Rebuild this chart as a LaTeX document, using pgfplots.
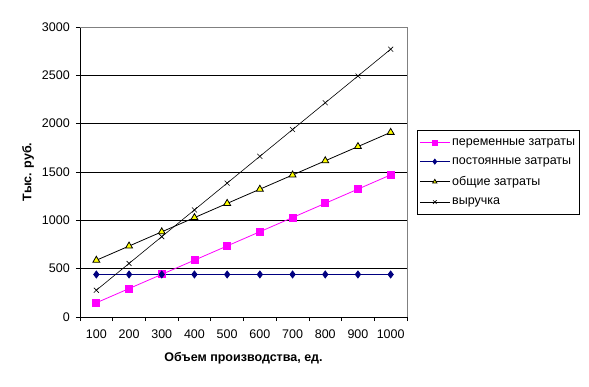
\documentclass[border=0pt]{standalone}
\usepackage{fontspec}
\setmainfont{Liberation Sans}
\usepackage{pgfplots}
\pgfplotsset{compat=1.18}
\definecolor{navyc}{RGB}{0,0,128}
\definecolor{magc}{RGB}{255,0,255}
\definecolor{yelc}{RGB}{255,255,0}
\begin{document}
\fontsize{12bp}{14bp}\selectfont
\begin{tikzpicture}
\useasboundingbox (-80bp,-70bp) rectangle (509bp,317bp);
\begin{axis}[
  at={(0,0)}, anchor=south west,
  scale only axis, width=327bp, height=290bp,
  xmin=-0.5, xmax=9.5, ymin=0, ymax=3000,
  xtick={0,...,9},
  xticklabels={100,200,300,400,500,600,700,800,900,1000},
  major x tick style={draw=none},
  minor xtick={-0.5,0.5,...,9.5},
  minor tick length=4bp,
  ytick={0,500,...,3000},
  major tick length=4bp,
  tick align=outside,
  tick style={black, line width=0.8bp},
  ymajorgrids, grid style={black, line width=0.8bp},
  axis x line*=bottom, axis y line*=left,
  axis line style={black, line width=0.8bp, -},
  /pgf/number format/assume math mode=true,
  /pgf/number format/1000 sep={},
  ticklabel style={font=\fontsize{12.5bp}{14bp}\selectfont},
  xticklabel style={yshift=-5bp},
  yticklabel style={xshift=-2bp},
  xlabel={\textbf{Объем производства, ед.}},
  ylabel={\textbf{Тыс. руб.}},
  label style={font=\fontsize{12.5bp}{14bp}\selectfont},
  xlabel style={at={(axis description cs:0.5,-0.141)}, anchor=center},
  ylabel style={at={(axis description cs:-0.159,0.5)}, anchor=center},
  legend style={at={(1.0306,0.645)}, anchor=north west, draw=black, line width=0.8bp,
    font=\fontsize{12.5bp}{14bp}\selectfont, row sep=6.5bp, inner xsep=2bp,
    inner ysep=6bp, legend cell align=left},
  legend image code/.code={\draw[mark repeat=2,mark phase=2,mark size=2.5bp] plot coordinates {(0bp,0bp)(15bp,0bp)(30bp,0bp)};},
  clip=false,
]
\addplot[magc, line width=0.8bp, mark=square*, mark size=3.5bp, mark options={fill=magc, draw=magc}]
  coordinates {(0,147)(1,294)(2,441)(3,588)(4,735)(5,882)(6,1029)(7,1176)(8,1323)(9,1470)};
\addlegendentry{переменные затраты}
\addplot[navyc, line width=0.8bp, mark=diamond*, mark size=3.5bp, mark options={fill=navyc, draw=navyc}]
  coordinates {(0,440)(1,440)(2,440)(3,440)(4,440)(5,440)(6,440)(7,440)(8,440)(9,440)};
\addlegendentry{постоянные затраты}
\addplot[black, line width=0.8bp, mark=triangle*, mark size=4bp, mark options={fill=yelc, draw=black}]
  coordinates {(0,587)(1,734)(2,881)(3,1028)(4,1175)(5,1322)(6,1469)(7,1616)(8,1763)(9,1910)};
\addlegendentry{общие затраты}
\addplot[black, line width=0.6bp, mark=x, mark size=3.5bp, mark options={draw=black}]
  coordinates {(0,277)(1,554)(2,831)(3,1108)(4,1385)(5,1662)(6,1939)(7,2216)(8,2493)(9,2770)};
\addlegendentry{выручка}
\draw[gray, line width=0.8bp] (rel axis cs:0,1) -- (rel axis cs:1,1) -- (rel axis cs:1,0);
\end{axis}
\end{tikzpicture}
\end{document}
